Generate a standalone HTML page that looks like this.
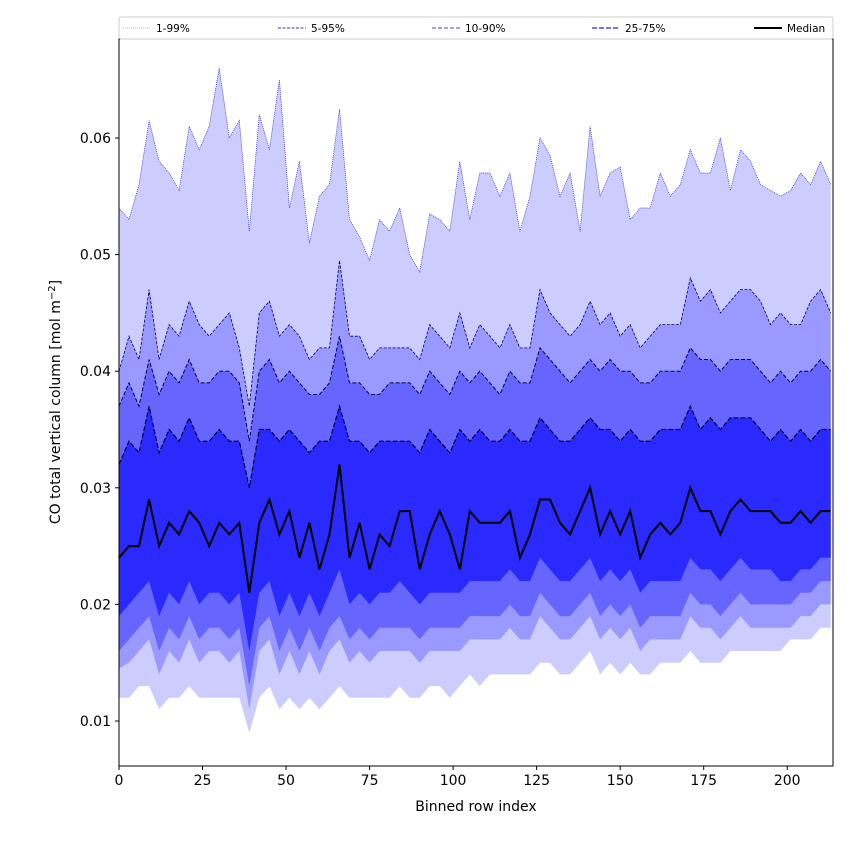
<!DOCTYPE html>
<html><head><meta charset="utf-8"><style>
body{margin:0;background:#fff;font-family:"Liberation Sans","DejaVu Sans",sans-serif}
svg text{font-family:"DejaVu Sans","Liberation Sans",sans-serif}
</style></head><body>
<svg id="chart" width="850" height="850" viewBox="0 0 850 850" xmlns="http://www.w3.org/2000/svg">
<rect width="850" height="850" fill="#fff"/>
<g id="plot"></g>
<g id="axes"></g>
</svg>
<script>
const binStep = 3;
const p99 = [0.054,0.053,0.056,0.0615,0.058,0.057,0.0555,0.061,0.059,0.061,0.066,0.060,0.0615,0.052,0.062,0.059,0.065,0.054,0.058,0.051,0.055,0.056,0.0625,0.053,0.0515,0.0495,0.053,0.052,0.054,0.050,0.0485,0.0535,0.053,0.052,0.058,0.053,0.057,0.057,0.055,0.057,0.052,0.055,0.060,0.0585,0.055,0.057,0.052,0.061,0.055,0.057,0.0575,0.053,0.054,0.054,0.057,0.055,0.056,0.059,0.057,0.057,0.060,0.0555,0.059,0.058,0.056,0.0555,0.055,0.0555,0.057,0.056,0.058,0.056];
const p95 = [0.040,0.043,0.041,0.047,0.041,0.044,0.043,0.046,0.044,0.043,0.044,0.045,0.042,0.037,0.045,0.046,0.043,0.044,0.043,0.041,0.042,0.042,0.0495,0.043,0.043,0.041,0.042,0.042,0.042,0.042,0.041,0.044,0.043,0.042,0.045,0.042,0.044,0.043,0.042,0.044,0.042,0.042,0.047,0.045,0.044,0.043,0.044,0.046,0.044,0.045,0.043,0.044,0.042,0.043,0.044,0.044,0.044,0.048,0.046,0.047,0.045,0.046,0.047,0.047,0.046,0.044,0.045,0.044,0.044,0.046,0.047,0.045];
const p90 = [0.037,0.039,0.037,0.041,0.038,0.040,0.039,0.041,0.039,0.039,0.040,0.040,0.039,0.034,0.040,0.041,0.039,0.040,0.039,0.038,0.038,0.039,0.043,0.039,0.039,0.038,0.038,0.039,0.039,0.039,0.038,0.040,0.039,0.038,0.040,0.039,0.040,0.039,0.038,0.040,0.039,0.039,0.042,0.041,0.040,0.039,0.040,0.041,0.040,0.041,0.040,0.040,0.039,0.039,0.040,0.040,0.040,0.042,0.041,0.041,0.040,0.041,0.041,0.041,0.040,0.039,0.040,0.039,0.040,0.040,0.041,0.040];
const p75 = [0.032,0.034,0.033,0.037,0.033,0.035,0.034,0.036,0.034,0.034,0.035,0.034,0.034,0.030,0.035,0.035,0.034,0.035,0.034,0.033,0.034,0.034,0.037,0.034,0.034,0.033,0.034,0.034,0.034,0.034,0.033,0.035,0.034,0.033,0.035,0.034,0.035,0.034,0.034,0.035,0.034,0.034,0.036,0.035,0.034,0.034,0.035,0.036,0.035,0.035,0.034,0.035,0.034,0.034,0.035,0.035,0.035,0.037,0.035,0.036,0.035,0.036,0.036,0.036,0.035,0.034,0.035,0.034,0.035,0.034,0.035,0.035];
const median = [0.024,0.025,0.025,0.029,0.025,0.027,0.026,0.028,0.027,0.025,0.027,0.026,0.027,0.021,0.027,0.029,0.026,0.028,0.024,0.027,0.023,0.026,0.032,0.024,0.027,0.023,0.026,0.025,0.028,0.028,0.023,0.026,0.028,0.026,0.023,0.028,0.027,0.027,0.027,0.028,0.024,0.026,0.029,0.029,0.027,0.026,0.028,0.030,0.026,0.028,0.026,0.028,0.024,0.026,0.027,0.026,0.027,0.030,0.028,0.028,0.026,0.028,0.029,0.028,0.028,0.028,0.027,0.027,0.028,0.027,0.028,0.028];
const p25 = [0.019,0.020,0.021,0.022,0.019,0.021,0.020,0.022,0.020,0.021,0.021,0.020,0.021,0.016,0.021,0.022,0.019,0.021,0.019,0.021,0.019,0.021,0.023,0.020,0.021,0.020,0.021,0.021,0.022,0.021,0.020,0.021,0.021,0.021,0.021,0.022,0.022,0.022,0.022,0.023,0.022,0.022,0.024,0.023,0.022,0.022,0.023,0.024,0.022,0.023,0.022,0.023,0.021,0.022,0.022,0.022,0.022,0.024,0.023,0.023,0.022,0.023,0.024,0.023,0.023,0.023,0.022,0.022,0.023,0.023,0.024,0.024];
const p10 = [0.016,0.017,0.018,0.019,0.016,0.018,0.017,0.019,0.017,0.018,0.018,0.017,0.018,0.013,0.018,0.019,0.016,0.018,0.016,0.018,0.016,0.018,0.019,0.017,0.018,0.017,0.018,0.018,0.018,0.018,0.017,0.018,0.018,0.018,0.018,0.019,0.019,0.019,0.019,0.020,0.019,0.019,0.021,0.020,0.019,0.019,0.020,0.021,0.019,0.020,0.019,0.020,0.018,0.019,0.019,0.019,0.019,0.021,0.020,0.020,0.019,0.020,0.021,0.020,0.020,0.020,0.020,0.020,0.021,0.021,0.022,0.022];
const p5 = [0.0145,0.015,0.016,0.017,0.014,0.016,0.015,0.017,0.015,0.016,0.016,0.015,0.016,0.011,0.016,0.017,0.014,0.016,0.014,0.016,0.014,0.016,0.017,0.015,0.016,0.015,0.016,0.016,0.016,0.016,0.015,0.016,0.016,0.016,0.016,0.017,0.017,0.017,0.017,0.018,0.017,0.017,0.019,0.018,0.017,0.017,0.018,0.019,0.017,0.018,0.017,0.018,0.016,0.017,0.017,0.017,0.017,0.019,0.018,0.018,0.017,0.018,0.019,0.018,0.018,0.018,0.018,0.018,0.019,0.019,0.020,0.020];
const p1 = [0.012,0.012,0.013,0.013,0.011,0.012,0.012,0.013,0.012,0.012,0.012,0.012,0.012,0.009,0.012,0.013,0.011,0.012,0.011,0.012,0.011,0.012,0.013,0.012,0.012,0.012,0.012,0.012,0.013,0.012,0.012,0.013,0.013,0.012,0.013,0.014,0.013,0.014,0.014,0.014,0.014,0.014,0.015,0.015,0.014,0.014,0.015,0.016,0.014,0.015,0.014,0.015,0.014,0.014,0.015,0.015,0.015,0.016,0.015,0.015,0.015,0.016,0.016,0.016,0.016,0.016,0.016,0.017,0.017,0.017,0.018,0.018];
const xTicks = [0,25,50,75,100,125,150,175,200];
const yTicks = [0.01,0.02,0.03,0.04,0.05,0.06];
const yTickLabels = ["0.01","0.02","0.03","0.04","0.05","0.06"];
const legendLabels = ["1-99%","5-95%","10-90%","25-75%","Median"];

const L=119,R=833,T=39,B=766;
const xmax=213.7;
const X=v=>L+v/xmax*(R-L);
const Y=v=>721-(v-0.01)*11660;
const NS="http://www.w3.org/2000/svg";
function mk(tag,attrs,parent){const e=document.createElementNS(NS,tag);for(const k in attrs)e.setAttribute(k,attrs[k]);parent.appendChild(e);return e;}
const plot=document.getElementById('plot'),axes=document.getElementById('axes');
const xs=p99.map((_,i)=>i*binStep);
function pts(arr){return arr.map((v,i)=>X(xs[i]).toFixed(1)+','+Y(v).toFixed(1));}
function band(lo,hi,fill,name){
  const d='M'+pts(hi).join('L')+'L'+pts(lo).reverse().join('L')+'Z';
  const p=mk('path',{d:d,fill:fill,stroke:'none'},plot);
  
  
}
function line(arr,stroke,w,dash,name){
  const p=mk('path',{d:'M'+pts(arr).join('L'),fill:'none',stroke:stroke,'stroke-width':w},plot);
  if(dash)p.setAttribute('stroke-dasharray',dash);
  
  
}
band(p1,p99,'#ccccff','band-1-99');
band(p5,p95,'#9999ff','band-5-95');
band(p10,p90,'#6666ff','band-10-90');
band(p25,p75,'#2a2aff','band-25-75');
line(p99,'#2222cc',0.7,'1,1','line-p99');
line(p95,'#000066',0.8,'3,1.5','line-p95');
line(p90,'#000055',1,'4,2','line-p90');
line(p75,'#000040',1.2,'5,2','line-p75');
line(median,'#000',2,null,'line-median');

// frame
const fr=mk('rect',{x:L,y:T,width:R-L,height:B-T,fill:'none',stroke:'#000','stroke-width':1},axes);


xTicks.forEach(t=>{
  mk('line',{x1:X(t),x2:X(t),y1:B,y2:B+4,stroke:'#000'},axes);
  const tx=mk('text',{x:X(t),y:B+19,'text-anchor':'middle','font-size':14},axes);
  tx.textContent=t;
  
  
});
yTicks.forEach((t,i)=>{
  mk('line',{x1:L-4,x2:L,y1:Y(t),y2:Y(t),stroke:'#000'},axes);
  const tx=mk('text',{x:L-8,y:Y(t)+5,'text-anchor':'end','font-size':14},axes);
  tx.textContent=yTickLabels[i];
  
  
});
const xt=mk('text',{x:(L+R)/2,y:811,'text-anchor':'middle','font-size':14},axes);
xt.textContent='Binned row index';


const yt=mk('text',{x:0,y:0,'text-anchor':'middle','font-size':14,transform:'translate(60,402) rotate(-90)'},axes);
yt.innerHTML='CO total vertical column [mol m<tspan dy="-5" font-size="10">−2</tspan><tspan dy="5">]</tspan>';



// legend
const lg=mk('g',{},axes);


mk('rect',{x:L,y:17,width:R-L,height:22,fill:'#fff',stroke:'#ccc','stroke-width':1,rx:2},lg);
const lgStyles=[['#9999dd',0.7,'1,1'],['#000066',0.8,'3,1.5'],['#4444cc',1,'4,2'],['#2222ff',1.2,'5,2'],['#000',2,null]];
const lgX=[123,278,432,592,754];
legendLabels.forEach((lab,i)=>{
  const g=mk('g',{},lg);
  
  
  const s=lgStyles[i];
  const ln=mk('line',{x1:lgX[i],x2:lgX[i]+28,y1:28,y2:28,stroke:s[0],'stroke-width':s[1]},g);
  if(s[2])ln.setAttribute('stroke-dasharray',s[2]);
  const t=mk('text',{x:lgX[i]+33,y:32,'font-size':10.5},g);
  t.textContent=lab;
});
</script>
</body></html>
